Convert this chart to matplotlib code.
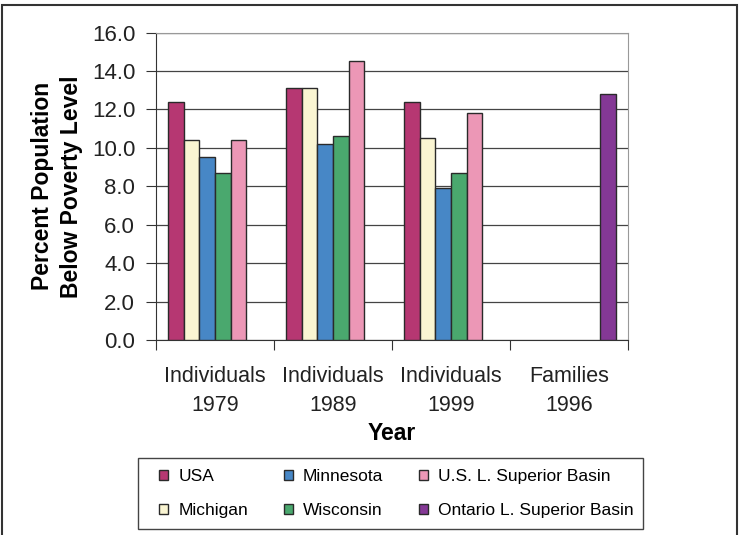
import numpy as np
import matplotlib
matplotlib.use('Agg')
import matplotlib.pyplot as plt
from matplotlib.patches import Rectangle

plt.rcParams['font.family'] = ['Liberation Sans', 'DejaVu Sans']

# data
categories = ['Individuals\n1979', 'Individuals\n1989', 'Individuals\n1999', 'Families\n1996']
series = ['USA', 'Michigan', 'Minnesota', 'Wisconsin',
          'U.S. L. Superior Basin', 'Ontario L. Superior Basin']
usa = [12.4, 13.1, 12.4, np.nan]
michigan = [10.4, 13.1, 10.5, np.nan]
minnesota = [9.5, 10.2, 7.9, np.nan]
wisconsin = [8.7, 10.6, 8.7, np.nan]
us_basin = [10.4, 14.5, 11.8, np.nan]
ontario_basin = [np.nan, np.nan, np.nan, 12.8]
colors = ['#B63772', '#FAF5D2', '#4787C6', '#4AA86E', '#EC97B6', '#843895']

values = [usa, michigan, minnesota, wisconsin, us_basin, ontario_basin]

fig = plt.figure(figsize=(7.39, 5.35), dpi=100)
ax = fig.add_axes([156 / 739, 195 / 535, 472 / 739, 307.5 / 535])

x = np.arange(len(categories))
w = 0.8 / len(series)
for i, (name, vals) in enumerate(zip(series, values)):
    ax.bar(x - 0.4 + w * (i + 0.5), vals, width=w, color=colors[i],
           edgecolor='#2a2a2a', linewidth=1.0, label=name, zorder=3)

ax.set_xlim(-0.5, len(categories) - 0.5)
ax.set_ylim(0, 16)
ax.set_yticks(np.arange(0, 16.1, 2))
ax.set_yticklabels(['%.1f' % v for v in np.arange(0, 16.1, 2)], fontsize=16, color='#222222')
ax.yaxis.grid(True, color='#444444', linewidth=0.9, zorder=0)
ax.set_axisbelow(True)

# category boundary ticks, labels centred in between
ax.set_xticks(np.arange(-0.5, len(categories), 1.0))
ax.set_xticklabels([])
ax.set_xticks(x, minor=True)
ax.set_xticklabels(categories, minor=True, fontsize=15.5, color='#222222', linespacing=1.5)
ax.tick_params(axis='x', which='minor', length=0, pad=19)
ax.tick_params(axis='x', which='major', length=7, color='#333333')
ax.tick_params(axis='y', length=7, color='#333333', pad=8)

ax.spines['top'].set_color('#999999')
ax.spines['right'].set_color('#999999')
ax.spines['left'].set_color('#333333')
ax.spines['bottom'].set_color('#333333')

ax.set_xlabel('Year', fontsize=16.5, fontweight='bold', labelpad=4)
ax.set_ylabel('Percent Population\nBelow Poverty Level', fontsize=16.5,
              fontweight='bold', labelpad=6, linespacing=1.35)

# legend frame drawn separately, entries placed inside it
fig.patches.append(Rectangle((138 / 739, 6 / 535), 505 / 739, 71 / 535,
                             transform=fig.transFigure, fill=False,
                             edgecolor='#444444', linewidth=1.0))
fig.legend(loc='center left', bbox_to_anchor=(153 / 739, 6 / 535, 487 / 739, 71 / 535),
           mode='expand', ncol=3, fontsize=12.5, frameon=False,
           handlelength=0.5, handleheight=0.5,
           handletextpad=0.6, labelspacing=1.1, borderaxespad=0.0,
           borderpad=0.35, columnspacing=1.2)

fig.patches.append(Rectangle((2 / 739, -0.02), 735 / 739, 1.02 - 5 / 535,
                             transform=fig.transFigure, fill=False,
                             edgecolor='#333333', linewidth=1.5))

fig.savefig('out.png', dpi=100)
